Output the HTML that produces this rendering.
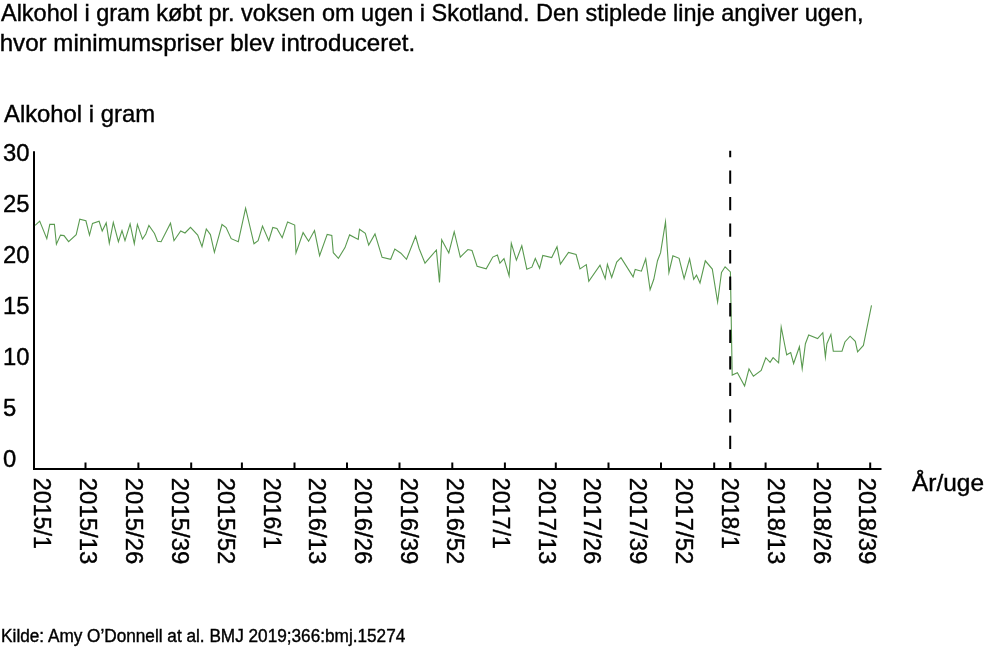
<!DOCTYPE html>
<html><head><meta charset="utf-8"><style>
html,body{margin:0;padding:0;background:#fff;width:984px;height:647px;overflow:hidden}
svg{display:block;will-change:transform}
text{font-family:"Liberation Sans",sans-serif;fill:#000;stroke:#000;stroke-width:0.4px}
</style></head><body>
<svg width="984" height="647" viewBox="0 0 984 647">
<text x="1.00" y="20.60" style="font-size:23.2px" textLength="862.50" lengthAdjust="spacingAndGlyphs">Alkohol i gram købt pr. voksen om ugen i Skotland. Den stiplede linje angiver ugen,</text>
<text x="-0.30" y="50.80" style="font-size:23.2px" textLength="415.40" lengthAdjust="spacingAndGlyphs">hvor minimumspriser blev introduceret.</text>
<text x="4.00" y="121.90" style="font-size:24px" textLength="151.00" lengthAdjust="spacingAndGlyphs">Alkohol i gram</text>
<text transform="translate(3.00,161.29) scale(1.0,1)" style="font-size:23.8px">30</text>
<text transform="translate(3.00,212.29) scale(1.0,1)" style="font-size:23.8px">25</text>
<text transform="translate(3.00,263.29) scale(1.0,1)" style="font-size:23.8px">20</text>
<text transform="translate(3.00,314.29) scale(1.0,1)" style="font-size:23.8px">15</text>
<text transform="translate(3.00,365.29) scale(1.0,1)" style="font-size:23.8px">10</text>
<text transform="translate(3.00,416.29) scale(1.0,1)" style="font-size:23.8px">5</text>
<text transform="translate(3.00,467.29) scale(1.0,1)" style="font-size:23.8px">0</text>
<path d="M34 151.2 V469 H881.5" fill="none" stroke="#000" stroke-width="2" stroke-linecap="butt"/>
<line x1="85.5" y1="462.5" x2="85.5" y2="469" stroke="#000" stroke-width="2"/>
<line x1="138.4" y1="462.5" x2="138.4" y2="469" stroke="#000" stroke-width="2"/>
<line x1="191.2" y1="462.5" x2="191.2" y2="469" stroke="#000" stroke-width="2"/>
<line x1="241.9" y1="462.5" x2="241.9" y2="469" stroke="#000" stroke-width="2"/>
<line x1="294.5" y1="462.5" x2="294.5" y2="469" stroke="#000" stroke-width="2"/>
<line x1="347.0" y1="462.5" x2="347.0" y2="469" stroke="#000" stroke-width="2"/>
<line x1="399.5" y1="462.5" x2="399.5" y2="469" stroke="#000" stroke-width="2"/>
<line x1="452.3" y1="462.5" x2="452.3" y2="469" stroke="#000" stroke-width="2"/>
<line x1="504.9" y1="462.5" x2="504.9" y2="469" stroke="#000" stroke-width="2"/>
<line x1="555.8" y1="462.5" x2="555.8" y2="469" stroke="#000" stroke-width="2"/>
<line x1="608.5" y1="462.5" x2="608.5" y2="469" stroke="#000" stroke-width="2"/>
<line x1="661.0" y1="462.5" x2="661.0" y2="469" stroke="#000" stroke-width="2"/>
<line x1="714.2" y1="462.5" x2="714.2" y2="469" stroke="#000" stroke-width="2"/>
<line x1="730.3" y1="462.5" x2="730.3" y2="469" stroke="#000" stroke-width="2"/>
<line x1="765.6" y1="462.5" x2="765.6" y2="469" stroke="#000" stroke-width="2"/>
<line x1="817.8" y1="462.5" x2="817.8" y2="469" stroke="#000" stroke-width="2"/>
<line x1="870.2" y1="462.5" x2="870.2" y2="469" stroke="#000" stroke-width="2"/>
<text transform="translate(34.46,477.8) rotate(90)" style="font-size:23.0px" textLength="71.0" lengthAdjust="spacingAndGlyphs">2015/1</text>
<text transform="translate(80.29,477.8) rotate(90)" style="font-size:23.0px" textLength="86.5" lengthAdjust="spacingAndGlyphs">2015/13</text>
<text transform="translate(126.12,477.8) rotate(90)" style="font-size:23.0px" textLength="86.5" lengthAdjust="spacingAndGlyphs">2015/26</text>
<text transform="translate(171.95,477.8) rotate(90)" style="font-size:23.0px" textLength="86.5" lengthAdjust="spacingAndGlyphs">2015/39</text>
<text transform="translate(217.78,477.8) rotate(90)" style="font-size:23.0px" textLength="86.5" lengthAdjust="spacingAndGlyphs">2015/52</text>
<text transform="translate(263.61,477.8) rotate(90)" style="font-size:23.0px" textLength="71.0" lengthAdjust="spacingAndGlyphs">2016/1</text>
<text transform="translate(309.44,477.8) rotate(90)" style="font-size:23.0px" textLength="86.5" lengthAdjust="spacingAndGlyphs">2016/13</text>
<text transform="translate(355.27,477.8) rotate(90)" style="font-size:23.0px" textLength="86.5" lengthAdjust="spacingAndGlyphs">2016/26</text>
<text transform="translate(401.10,477.8) rotate(90)" style="font-size:23.0px" textLength="86.5" lengthAdjust="spacingAndGlyphs">2016/39</text>
<text transform="translate(446.93,477.8) rotate(90)" style="font-size:23.0px" textLength="86.5" lengthAdjust="spacingAndGlyphs">2016/52</text>
<text transform="translate(492.76,477.8) rotate(90)" style="font-size:23.0px" textLength="71.0" lengthAdjust="spacingAndGlyphs">2017/1</text>
<text transform="translate(538.59,477.8) rotate(90)" style="font-size:23.0px" textLength="86.5" lengthAdjust="spacingAndGlyphs">2017/13</text>
<text transform="translate(584.42,477.8) rotate(90)" style="font-size:23.0px" textLength="86.5" lengthAdjust="spacingAndGlyphs">2017/26</text>
<text transform="translate(630.25,477.8) rotate(90)" style="font-size:23.0px" textLength="86.5" lengthAdjust="spacingAndGlyphs">2017/39</text>
<text transform="translate(676.08,477.8) rotate(90)" style="font-size:23.0px" textLength="86.5" lengthAdjust="spacingAndGlyphs">2017/52</text>
<text transform="translate(721.91,477.8) rotate(90)" style="font-size:23.0px" textLength="71.0" lengthAdjust="spacingAndGlyphs">2018/1</text>
<text transform="translate(767.74,477.8) rotate(90)" style="font-size:23.0px" textLength="86.5" lengthAdjust="spacingAndGlyphs">2018/13</text>
<text transform="translate(813.57,477.8) rotate(90)" style="font-size:23.0px" textLength="86.5" lengthAdjust="spacingAndGlyphs">2018/26</text>
<text transform="translate(859.40,477.8) rotate(90)" style="font-size:23.0px" textLength="86.5" lengthAdjust="spacingAndGlyphs">2018/39</text>
<text x="912.00" y="490.50" style="font-size:23.8px" textLength="72.00" lengthAdjust="spacingAndGlyphs">År/uge</text>
<text x="1.10" y="641.60" style="font-size:18px" textLength="404.20" lengthAdjust="spacingAndGlyphs">Kilde: Amy O’Donnell at al. BMJ 2019;366:bmj.15274</text>
<polyline points="35.1,225.4 39.7,221.1 46.8,238.6 49.8,224.4 54.4,224.4 56.4,244.2 60.5,235.1 64.0,235.6 68.6,241.7 76.2,234.6 79.8,219.1 85.9,220.8 89.5,235.1 92.5,223.4 99.1,221.3 102.2,231.0 106.2,222.9 109.3,243.2 113.3,222.4 118.4,241.7 122.0,230.5 125.0,240.7 130.1,223.9 134.3,243.7 137.4,224.4 142.5,239.1 145.8,234.0 148.9,225.4 154.5,233.5 157.5,241.2 161.1,241.7 170.5,223.2 174.0,240.7 180.7,231.0 185.0,233.0 190.5,227.4 197.7,235.1 202.0,246.7 206.3,229.0 210.4,234.6 214.4,252.3 222.0,224.5 226.1,227.5 231.2,238.7 238.3,241.7 245.6,208.2 254.0,243.8 258.1,240.7 262.5,226.0 268.8,240.7 272.8,227.5 276.9,228.5 282.2,237.7 287.6,221.9 294.7,225.0 296.0,252.9 303.1,232.6 308.6,241.2 314.5,230.6 319.6,255.7 327.2,234.4 331.8,235.4 333.3,252.7 338.4,258.3 345.0,247.6 349.6,234.9 358.2,239.5 359.5,229.3 365.3,233.4 368.7,245.1 375.0,233.9 382.1,257.3 390.7,259.3 394.8,249.1 400.9,253.2 406.5,259.3 415.6,236.3 419.1,248.5 425.0,263.2 436.4,250.0 439.5,282.5 441.7,239.8 448.8,253.0 454.2,231.7 460.3,257.1 467.9,249.5 472.0,250.5 477.1,266.2 486.2,268.8 492.8,257.1 497.4,255.1 499.9,263.2 504.0,258.6 509.1,275.8 511.3,243.3 516.4,260.1 521.8,245.8 526.8,269.2 531.9,267.2 535.3,258.5 539.6,268.2 542.8,255.5 551.7,257.5 557.0,246.8 560.4,264.1 568.5,252.4 576.1,254.5 580.0,268.9 586.3,264.6 588.8,281.4 600.0,265.1 605.2,278.7 607.4,264.4 611.7,277.4 616.7,262.0 621.0,257.6 633.1,276.8 635.2,269.4 641.4,271.2 645.7,258.9 650.1,289.8 653.8,279.3 657.5,260.7 660.6,252.7 665.5,221.8 668.9,272.5 672.9,255.8 679.1,258.3 684.1,278.7 689.6,258.9 693.7,279.3 696.5,275.1 700.0,283.0 705.3,260.8 712.3,269.1 717.6,302.0 721.5,272.4 725.1,266.8 730.4,271.9 732.2,375.1 737.4,372.8 744.6,385.9 749.0,368.9 753.4,376.2 761.2,370.4 765.8,357.7 770.1,362.3 773.1,357.7 778.6,362.9 781.2,327.0 786.7,354.8 790.7,352.5 793.6,363.5 799.4,346.7 802.2,368.6 805.4,343.7 808.7,335.0 817.6,338.5 822.8,332.7 825.4,357.0 826.9,343.7 830.9,334.4 833.3,351.2 842.0,351.2 844.9,342.0 850.1,336.2 855.3,341.4 857.6,351.8 863.4,345.4 871.5,305.4" fill="none" stroke="#5a9a50" stroke-width="1.1" stroke-linejoin="miter" stroke-miterlimit="10"/>
<line x1="730.2" y1="150.8" x2="730.2" y2="468" stroke="#000" stroke-width="2" stroke-dasharray="13.3 13.22" stroke-dashoffset="6.8"/>
</svg>
</body></html>
